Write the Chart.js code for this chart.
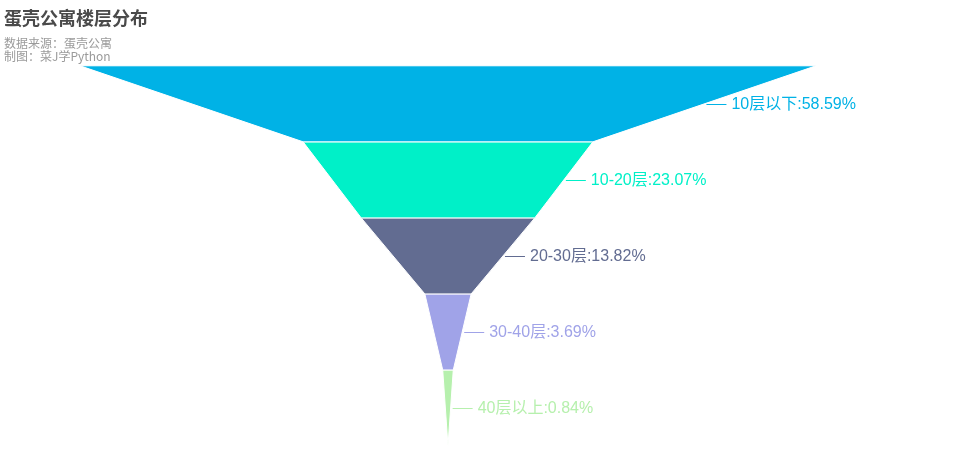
<!DOCTYPE html>
<html>
<head>
<meta charset="utf-8">
<script src="https://cdn.jsdelivr.net/npm/chart.js@4"></script>
<style>
    body { margin: 0; background: #fff; }
</style>
</head>
<body>
<canvas id="funnel" width="970" height="476"></canvas>
<script>
const categories = ['10层以下', '10-20层', '20-30层', '30-40层', '40层以上'];
const percents = [58.59, 23.07, 13.82, 3.69, 0.84];
const colors = ['#00b2e6', '#00f0c8', '#626c91', '#a0a3e8', '#b6f0ad'];

const fontFamily = '"Noto Sans CJK SC", "Noto Sans", sans-serif';
const labelFamily = '"Liberation Sans", "Noto Sans CJK SC", sans-serif';
const maxValue = Math.max(...percents);

// one closed polygon per level: top width = this value, bottom width = next value
const datasets = percents.map((value, i) => {
    const next = i < percents.length - 1 ? percents[i + 1] : 0;
    return {
        label: categories[i],
        data: [
            { x: -value, y: i },
            { x: value, y: i },
            { x: next, y: i + 1 },
            { x: -next, y: i + 1 },
            { x: -value, y: i }
        ],
        backgroundColor: colors[i],
        borderColor: '#ffffff',
        borderWidth: 1,
        fill: 'shape',
        tension: 0,
        pointRadius: 0,
        pointHoverRadius: 0
    };
});

const funnelLabels = {
    id: 'funnelLabels',
    afterDatasetsDraw(chart) {
        const ctx = chart.ctx;
        const xScale = chart.scales.x;
        const yScale = chart.scales.y;
        ctx.save();
        ctx.font = '16px ' + labelFamily;
        ctx.textBaseline = 'middle';
        ctx.textAlign = 'left';
        ctx.lineWidth = 1;
        percents.forEach((value, i) => {
            const next = i < percents.length - 1 ? percents[i + 1] : 0;
            const y = Math.round(yScale.getPixelForValue(i + 0.5)) + 0.5;
            const edge = xScale.getPixelForValue((value + next) / 2);
            ctx.strokeStyle = colors[i];
            ctx.fillStyle = colors[i];
            ctx.beginPath();
            ctx.moveTo(edge + 2, y);
            ctx.lineTo(edge + 22, y);
            ctx.stroke();
            ctx.fillText(categories[i] + ':' + value.toFixed(2) + '%', edge + 27, y);
        });
        ctx.restore();
    }
};

new Chart(document.getElementById('funnel'), {
    type: 'line',
    data: { datasets: datasets },
    options: {
        responsive: false,
        animation: false,
        layout: { padding: { left: 4, right: 0, top: 0, bottom: 30 } },
        scales: {
            x: {
                type: 'linear',
                display: false,
                min: -maxValue * 1.2065,
                max: maxValue * 1.4185
            },
            y: {
                type: 'linear',
                display: false,
                reverse: true,
                min: 0,
                max: percents.length
            }
        },
        plugins: {
            legend: { display: false },
            tooltip: { enabled: false },
            title: {
                display: true,
                text: '蛋壳公寓楼层分布',
                align: 'start',
                color: '#4a4a4a',
                font: { size: 18, weight: 'bold', family: fontFamily, lineHeight: 1.2 },
                padding: { top: 7, bottom: 4 }
            },
            subtitle: {
                display: true,
                text: ['数据来源：蛋壳公寓', '制图：菜J学Python'],
                align: 'start',
                color: '#9a9a9a',
                font: { size: 12, family: fontFamily, lineHeight: 1.05 },
                padding: { top: 5, bottom: 3 }
            }
        }
    },
    plugins: [funnelLabels]
});
</script>
</body>
</html>
